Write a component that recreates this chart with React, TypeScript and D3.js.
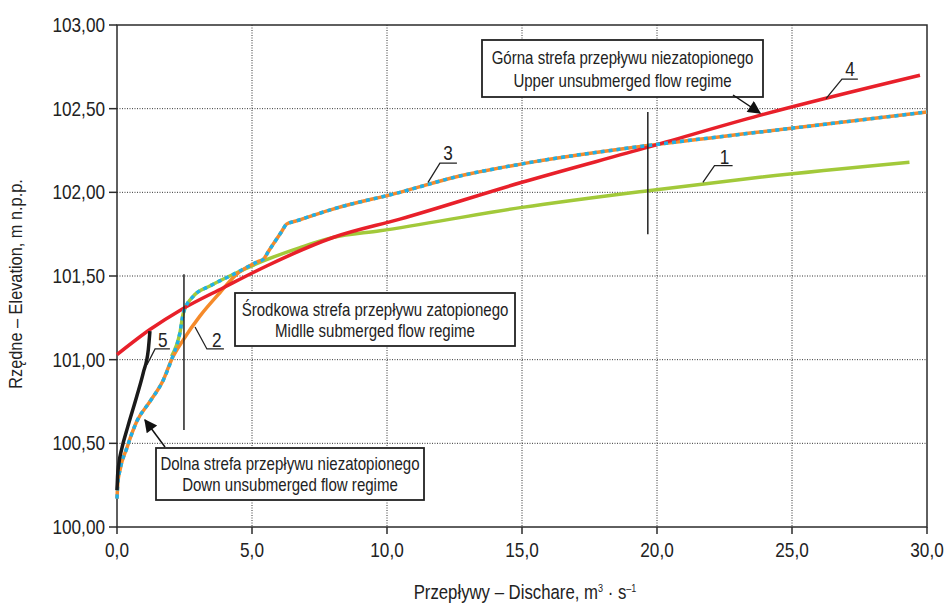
import React, { useEffect, useRef } from "react";
import * as d3 from "d3";

// discharge (m3/s) and elevation (m)
const curve1Q = [2.02, 2.33, 2.46, 2.83, 3.44, 4.31, 5.42, 6.78, 8.0, 9.74, 15, 19.67, 23.8, 29.35];
const curve1Z = [101.02, 101.16, 101.28, 101.38, 101.44, 101.51, 101.59, 101.67, 101.73, 101.77, 101.91, 102.01, 102.09, 102.18];

const curve2Q = [0, 0.03, 0.11, 0.36, 0.73, 1.22, 1.72, 2.02, 2.46, 3.07, 3.81, 4.43, 4.9, 5.2, 5.42, 5.6, 6.1, 6.28, 6.6, 8.0, 10.48, 12.5, 15, 19.67, 23.8, 30];
const curve2Z = [100.17, 100.26, 100.34, 100.47, 100.63, 100.75, 100.88, 101.0, 101.12, 101.26, 101.4, 101.51, 101.56, 101.585, 101.6, 101.645, 101.766, 101.81, 101.827, 101.9, 102.0, 102.09, 102.17, 102.28, 102.36, 102.48];

const curve3Q = [0, 0.03, 0.11, 0.36, 0.73, 1.22, 1.72, 2.02, 2.33, 2.46, 2.83, 3.44, 4.31, 4.9, 5.2, 5.42, 5.6, 6.1, 6.28, 6.6, 8.0, 10.48, 12.5, 15, 19.67, 23.8, 30];
const curve3Z = [100.17, 100.26, 100.34, 100.47, 100.63, 100.75, 100.88, 101.0, 101.16, 101.28, 101.38, 101.44, 101.51, 101.56, 101.585, 101.6, 101.645, 101.766, 101.81, 101.827, 101.9, 102.0, 102.09, 102.17, 102.28, 102.36, 102.48];

const curve4Q = [0, 1.22, 2.39, 3.94, 5.54, 8.0, 10.48, 15, 19.67, 23.8, 29.74];
const curve4Z = [101.03, 101.18, 101.3, 101.43, 101.56, 101.73, 101.84, 102.06, 102.27, 102.46, 102.7];

const curve5Q = [0, 0.02, 0.07, 0.18, 0.4, 0.73, 0.97, 1.16, 1.22];
const curve5Z = [100.22, 100.3, 100.38, 100.47, 100.6, 100.78, 100.92, 101.06, 101.17];

const xTicks = [0, 5, 10, 15, 20, 25, 30];
const yTicks = [100, 100.5, 101, 101.5, 102, 102.5, 103];

// regime boundaries (q, zFrom, zTo)
const boundaries = [
  [2.48, 100.58, 101.51],
  [19.66, 101.75, 102.48],
];

// curve number labels: text pos, leader shelf, leader end
const curveLabels = [
  { name: "1", tq: 22.5, tz: 102.21, q1: 22.13, q2: 22.8, sz: 102.16, eq: 21.7, ez: 102.06 },
  { name: "3", tq: 12.26, tz: 102.235, q1: 11.96, q2: 12.59, sz: 102.175, eq: 11.52, ez: 102.06 },
  { name: "4", tq: 27.15, tz: 102.74, q1: 26.85, q2: 27.44, sz: 102.677, eq: 26.26, ez: 102.56 },
  { name: "5", tq: 1.7, tz: 101.12, q1: 1.41, q2: 1.96, sz: 101.064, eq: 1.11, ez: 100.97 },
  { name: "2", tq: 3.7, tz: 101.12, q1: 3.33, q2: 3.96, sz: 101.064, eq: 2.89, ez: 101.195 },
];

const font = "'Liberation Sans', Arial, sans-serif";
const squeeze = 0.86;

const App = () => {
  const ref = useRef<SVGSVGElement | null>(null);

  useEffect(() => {
    document.body.style.margin = "0";
    const width = 947;
    const height = 604;
    const left = 117, right = 927, top = 25, bottom = 527;
    const dark = "#2b2b2b";
    const ink = "#222";

    const svg = d3.select(ref.current);
    svg.selectAll("*").remove();
    svg.attr("width", width).attr("height", height).style("font-family", font);

    const x = d3.scaleLinear().domain([0, 30]).range([left, right]);
    const y = d3.scaleLinear().domain([100, 103]).range([bottom, top]);

    // condensed-looking text
    const label = (px: number, py: number, txt: string, size: number, anchor = "middle", rot = 0) =>
      svg
        .append("text")
        .attr("transform", `translate(${px},${py}) rotate(${rot}) scale(${squeeze},1)`)
        .attr("dy", "0.35em")
        .attr("text-anchor", anchor)
        .attr("font-size", size)
        .attr("fill", ink)
        .text(txt);

    const defs = svg.append("defs");
    defs
      .append("marker")
      .attr("id", "arrow")
      .attr("viewBox", "0 0 10 10")
      .attr("refX", 9)
      .attr("refY", 5)
      .attr("markerWidth", 15)
      .attr("markerHeight", 13)
      .attr("markerUnits", "userSpaceOnUse")
      .attr("orient", "auto")
      .append("path")
      .attr("d", "M0,0 L10,5 L0,10 Z")
      .attr("fill", "#111");

    // grid
    svg
      .selectAll("vgrid")
      .data(xTicks.slice(1, -1))
      .enter()
      .append("line")
      .attr("x1", (d) => x(d))
      .attr("x2", (d) => x(d))
      .attr("y1", top)
      .attr("y2", bottom)
      .attr("stroke", "#333")
      .attr("stroke-width", 1)
      .attr("stroke-dasharray", "1,1.5");
    svg
      .selectAll("hgrid")
      .data(yTicks.slice(1, -1))
      .enter()
      .append("line")
      .attr("x1", left)
      .attr("x2", right)
      .attr("y1", (d) => y(d))
      .attr("y2", (d) => y(d))
      .attr("stroke", "#333")
      .attr("stroke-width", 1)
      .attr("stroke-dasharray", "1,1.5");

    // frame + ticks
    svg
      .append("rect")
      .attr("x", left)
      .attr("y", top)
      .attr("width", right - left)
      .attr("height", bottom - top)
      .attr("fill", "none")
      .attr("stroke", dark)
      .attr("stroke-width", 1.5);

    svg
      .selectAll("xtick")
      .data(xTicks)
      .enter()
      .append("line")
      .attr("x1", (d) => x(d))
      .attr("x2", (d) => x(d))
      .attr("y1", bottom)
      .attr("y2", bottom + 7)
      .attr("stroke", dark)
      .attr("stroke-width", 1.5);
    svg
      .selectAll("ytick")
      .data(yTicks)
      .enter()
      .append("line")
      .attr("x1", left - 8)
      .attr("x2", left)
      .attr("y1", (d) => y(d))
      .attr("y2", (d) => y(d))
      .attr("stroke", dark)
      .attr("stroke-width", 1.5);

    const comma = (v: number, n: number) => v.toFixed(n).replace(".", ",");
    xTicks.forEach((d) => label(x(d), 550, comma(d, 1), 20));
    yTicks.forEach((d) => label(left - 12, y(d), comma(d, 2), 20, "end"));

    // axis titles
    label(15, 284, "Rzędne – Elevation, m n.p.p.", 19, "middle", -90);
    const xt = svg
      .append("text")
      .attr("transform", `translate(525,592) scale(${squeeze},1)`)
      .attr("dy", "0.35em")
      .attr("text-anchor", "middle")
      .attr("font-size", 19.5)
      .attr("fill", ink);
    xt.append("tspan").text("Przepływy – Dischare, m");
    xt.append("tspan").attr("font-size", 10.5).attr("dy", -7).text("3");
    xt.append("tspan").attr("dy", 7).text(" · s");
    xt.append("tspan").attr("font-size", 10.5).attr("dy", -7).text("–1");

    // curves
    const path = (qs: number[], zs: number[]) =>
      d3
        .line<number>()
        .x((i) => x(qs[i]))
        .y((i) => y(zs[i]))
        .curve(d3.curveMonotoneX)(qs.map((_, i) => i));

    svg
      .append("path")
      .attr("d", path(curve1Q, curve1Z))
      .attr("fill", "none")
      .attr("stroke", "#a2c93a")
      .attr("stroke-width", 3.5);
    svg
      .append("path")
      .attr("d", path(curve2Q, curve2Z))
      .attr("fill", "none")
      .attr("stroke", "#f58a2a")
      .attr("stroke-width", 3.5);
    svg
      .append("path")
      .attr("d", path(curve4Q, curve4Z))
      .attr("fill", "none")
      .attr("stroke", "#e8202a")
      .attr("stroke-width", 3.5);
    svg
      .append("path")
      .attr("d", path(curve3Q, curve3Z))
      .attr("fill", "none")
      .attr("stroke", "#1fb0e8")
      .attr("stroke-width", 3.5)
      .attr("stroke-dasharray", "4,4");
    svg
      .append("path")
      .attr("d", path(curve5Q, curve5Z))
      .attr("fill", "none")
      .attr("stroke", "#1a1a1a")
      .attr("stroke-width", 3.5);

    // regime boundaries
    svg
      .selectAll("bound")
      .data(boundaries)
      .enter()
      .append("line")
      .attr("x1", (d) => x(d[0]))
      .attr("x2", (d) => x(d[0]))
      .attr("y1", (d) => y(d[1]))
      .attr("y2", (d) => y(d[2]))
      .attr("stroke", ink)
      .attr("stroke-width", 1.5);

    // curve labels
    curveLabels.forEach((d) => {
      svg
        .append("polyline")
        .attr("points", `${x(d.eq)},${y(d.ez)} ${x(d.q1)},${y(d.sz)} ${x(d.q2)},${y(d.sz)}`)
        .attr("fill", "none")
        .attr("stroke", ink)
        .attr("stroke-width", 1.3);
      label(x(d.tq), y(d.tz), d.name, 20);
    });

    // regime boxes
    const boxes = [
      { x0: 482, y0: 40, x1: 763, y1: 97, l1: "Górna strefa przepływu niezatopionego", l2: "Upper unsubmerged flow regime" },
      { x0: 235, y0: 293, x1: 515, y1: 346, l1: "Środkowa strefa przepływu zatopionego", l2: "Midlle submerged flow regime" },
      { x0: 156, y0: 448, x1: 424, y1: 500, l1: "Dolna strefa przepływu niezatopionego", l2: "Down unsubmerged flow regime" },
    ];
    boxes.forEach((d) => {
      svg
        .append("rect")
        .attr("x", d.x0)
        .attr("y", d.y0)
        .attr("width", d.x1 - d.x0)
        .attr("height", d.y1 - d.y0)
        .attr("fill", "white")
        .attr("stroke", ink)
        .attr("stroke-width", 1.8);
      const cx = (d.x0 + d.x1) / 2;
      const h = d.y1 - d.y0;
      label(cx, d.y0 + h * 0.31, d.l1, 17.5);
      label(cx, d.y0 + h * 0.71, d.l2, 17.5);
    });

    // arrows
    const arrows = [
      [733, 95, 760, 113],
      [165, 447, 145, 420],
    ];
    svg
      .selectAll("arr")
      .data(arrows)
      .enter()
      .append("line")
      .attr("x1", (d) => d[0])
      .attr("y1", (d) => d[1])
      .attr("x2", (d) => d[2])
      .attr("y2", (d) => d[3])
      .attr("stroke", "#111")
      .attr("stroke-width", 1.5)
      .attr("marker-end", "url(#arrow)");
  }, []);

  return (
    <svg
      ref={ref}
      width={947}
      height={604}
      style={{ position: "absolute", left: 0, top: 0, background: "white" }}
    ></svg>
  );
};

export default App;
